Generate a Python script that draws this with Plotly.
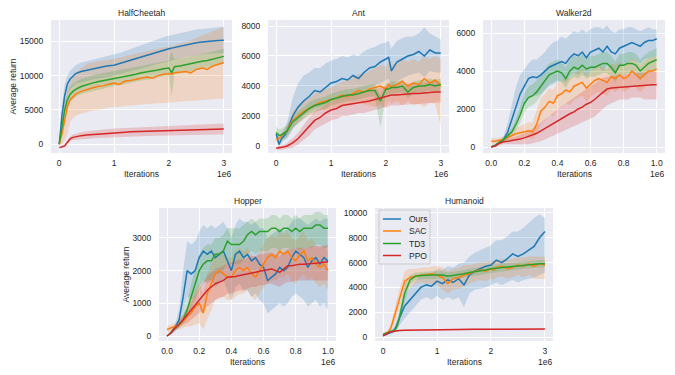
import plotly.graph_objects as go

# ---------------- data (iterations in units of 1e6) ----------------
methods = ["Ours", "SAC", "TD3", "PPO"]
colors = ["#1f77b4", "#ff7f0e", "#2ca02c", "#d62728"]
band_colors = ["rgba(31,119,180,0.2)", "rgba(255,127,14,0.2)", "rgba(44,160,44,0.2)", "rgba(214,39,40,0.2)"]

x_3m = [0, 0.05, 0.1, 0.15, 0.2, 0.25, 0.3, 0.4, 0.5, 0.6, 0.7, 0.8, 0.9, 1.0, 1.1, 1.2, 1.3, 1.4, 1.5, 1.6,
        1.7, 1.8, 1.9, 2.0, 2.05, 2.1, 2.2, 2.3, 2.4, 2.5, 2.6, 2.7, 2.8, 2.9, 3.0]
x_1m = [0, 0.025, 0.05, 0.075, 0.1, 0.125, 0.15, 0.175, 0.2, 0.225, 0.25, 0.275, 0.3, 0.325, 0.35, 0.375,
        0.4, 0.425, 0.45, 0.475, 0.5, 0.525, 0.55, 0.575, 0.6, 0.625, 0.65, 0.675, 0.7, 0.725, 0.75, 0.775,
        0.8, 0.825, 0.85, 0.875, 0.9, 0.925, 0.95, 0.975, 1.0]

# HalfCheetah
hc_mean = [
    [0, 4200, 7100, 8800, 9500, 9900, 10300, 10600, 10800, 11000, 11200, 11300, 11450, 11500, 11750, 12000, 12200, 12400, 12700, 12900,
     13200, 13400, 13700, 13900, 14000, 14100, 14300, 14500, 14650, 14800, 14900, 15000, 15050, 15100, 15150],
    [0, 1500, 3500, 5500, 6500, 6900, 7300, 7700, 8000, 8200, 8400, 8500, 8750, 8900, 8700, 9200, 9300, 9500, 9700, 9800,
     9600, 10000, 10200, 10300, 10200, 10400, 10500, 10600, 10400, 10900, 11100, 10900, 11400, 11700, 11900],
    [0, 2500, 5000, 6500, 7300, 7700, 8000, 8400, 8700, 8900, 9100, 9250, 9400, 9600, 9700, 9900, 10000, 10200, 10400, 10500,
     10600, 10800, 11000, 11100, 10400, 11300, 11400, 11600, 11700, 11900, 12100, 12200, 12400, 12600, 12800],
    [-500, -400, -250, 300, 800, 1000, 1100, 1250, 1350, 1420, 1500, 1550, 1600, 1700, 1720, 1750, 1800, 1820, 1850, 1880,
     1920, 1950, 1980, 2000, 2010, 2020, 2050, 2080, 2100, 2130, 2150, 2170, 2180, 2190, 2200],
]
hc_lo = [
    [-200, 2500, 5500, 7300, 8000, 8400, 8800, 9000, 9200, 9400, 9600, 9700, 9800, 9900, 10100, 10300, 10500, 10800, 11000, 11200,
     11500, 11700, 12000, 12200, 12300, 12300, 12500, 12700, 12800, 13000, 13100, 13200, 13200, 13300, 13300],
    [-200, 0, 500, 1500, 3300, 3800, 4200, 4500, 4700, 4900, 5000, 5100, 5300, 5400, 5500, 5600, 5650, 5700, 5800, 5850,
     5900, 6000, 6050, 6100, 6100, 6150, 6200, 6250, 6300, 6350, 6400, 6450, 6500, 6600, 6650],
    [-200, 1400, 3900, 5400, 6200, 6600, 6900, 7300, 7600, 7800, 8000, 8150, 8300, 8500, 8600, 8800, 8900, 9100, 9300, 9400,
     9500, 9700, 9900, 10000, 7000, 10200, 10300, 10500, 10600, 10800, 11000, 11100, 11300, 11500, 11700],
    [-600, -550, -450, 0, 450, 600, 650, 750, 800, 850, 900, 950, 1000, 1050, 1070, 1090, 1110, 1130, 1150, 1180,
     1210, 1240, 1260, 1280, 1290, 1300, 1320, 1340, 1350, 1370, 1390, 1400, 1410, 1420, 1430],
]
hc_hi = [
    [200, 5500, 8700, 10000, 10700, 11100, 11500, 11900, 12100, 12300, 12500, 12700, 12900, 13000, 13300, 13600, 13900, 14200, 14500, 14800,
     15100, 15300, 15600, 15800, 15900, 16000, 16200, 16400, 16600, 16700, 16800, 16900, 17000, 17100, 17100],
    [200, 3000, 6000, 8000, 9000, 9800, 10400, 11000, 11700, 11900, 12100, 12200, 12300, 12400, 12600, 12800, 13000, 13200, 13400, 13600,
     13800, 14000, 14100, 14200, 14300, 14400, 14600, 14900, 15200, 15500, 15800, 16100, 16500, 16800, 17100],
    [200, 3600, 6100, 7600, 8400, 8800, 9100, 9500, 9800, 10000, 10200, 10350, 10500, 10700, 10800, 11000, 11100, 11300, 11500, 11600,
     11700, 11900, 12100, 12200, 13500, 12400, 12500, 12700, 12800, 13000, 13200, 13300, 13500, 13700, 13900],
    [-400, -250, -50, 600, 1150, 1400, 1550, 1750, 1900, 2000, 2100, 2150, 2200, 2300, 2330, 2370, 2420, 2450, 2500, 2540,
     2580, 2620, 2660, 2700, 2720, 2740, 2780, 2820, 2850, 2880, 2910, 2940, 2960, 2980, 3000],
]

# Ant
ant_mean = [
    [800, 100, 500, 700, 1000, 1500, 2000, 2600, 3000, 3300, 3700, 3600, 3900, 4200, 4300, 4500, 4400, 4700, 4500, 4900,
     5200, 5300, 5600, 5800, 5900, 5000, 5600, 5800, 6000, 6100, 6300, 6000, 6400, 6200, 6200],
    [400, 500, 700, 850, 1000, 1400, 1700, 2000, 2300, 2500, 2700, 2900, 3000, 3100, 3200, 3400, 3300, 3500, 3700, 3600,
     3800, 3900, 4000, 3800, 4100, 3900, 4100, 4300, 4000, 4200, 4100, 4500, 4200, 4400, 4000],
    [900, 700, 750, 850, 1000, 1300, 1600, 1900, 2200, 2500, 2700, 2800, 2900, 3100, 3200, 3300, 3400, 3400, 3500, 3600,
     3700, 3700, 3000, 3800, 3800, 3900, 3900, 4000, 3600, 3900, 4000, 4000, 4100, 4000, 4100],
    [-150, -130, -100, -50, 0, 100, 200, 500, 900, 1300, 1700, 1900, 2200, 2400, 2500, 2700, 2750, 2800, 2850, 2900,
     3000, 3100, 3200, 3300, 3350, 3400, 3400, 3450, 3450, 3500, 3500, 3550, 3550, 3600, 3600],
]
ant_lo = [
    [600, -100, 200, 400, 500, 800, 1100, 1600, 2000, 2300, 2500, 2600, 2800, 3000, 3100, 3300, 3200, 3500, 3400, 3700,
     3900, 4000, 4200, 4400, 4500, 3800, 4300, 4500, 4700, 4800, 4900, 4600, 5000, 4900, 4900],
    [200, 300, 500, 600, 700, 900, 1200, 1500, 1800, 2000, 2200, 2400, 2400, 2500, 2600, 2700, 2700, 2800, 2900, 2800,
     2700, 2600, 2800, 2500, 3000, 2800, 3000, 2700, 3000, 2700, 2800, 2600, 2900, 2800, 1300],
    [500, 300, 350, 450, 600, 900, 1200, 1500, 1800, 2100, 2300, 2400, 2500, 2700, 2800, 2900, 3000, 3000, 3100, 3200,
     3300, 3300, 1200, 3400, 3400, 3500, 3500, 3600, 3200, 3500, 3600, 3600, 3700, 3600, 3700],
    [-250, -250, -250, -200, -200, -150, -100, 100, 400, 700, 1100, 1300, 1500, 1700, 1800, 2000, 2000, 2100, 2200, 2200,
     2300, 2400, 2500, 2600, 2650, 2700, 2700, 2750, 2750, 2800, 2800, 2850, 2850, 2900, 2900],
]
ant_hi = [
    [1000, 300, 800, 1100, 1600, 2500, 3200, 4200, 4700, 4900, 5200, 5200, 5500, 5700, 5800, 6000, 5900, 6100, 6000, 6300,
     6500, 6600, 6800, 6900, 7000, 6500, 7000, 7200, 7300, 7300, 7500, 7900, 7500, 7300, 7100],
    [600, 700, 900, 1100, 1400, 1900, 2300, 2700, 3000, 3200, 3500, 3700, 3800, 3900, 4100, 4300, 4400, 4600, 4800, 4800,
     5000, 5200, 5400, 5300, 5600, 5400, 5600, 5800, 5600, 5800, 5600, 6000, 5800, 6000, 5800],
    [1300, 1100, 1150, 1250, 1400, 1700, 2000, 2300, 2600, 2900, 3100, 3200, 3300, 3500, 3600, 3700, 3800, 3800, 3900, 4000,
     4100, 4100, 3400, 4200, 4200, 4300, 4300, 4400, 4000, 4300, 4400, 4400, 4500, 4400, 4500],
    [-50, -10, 50, 100, 200, 400, 500, 900, 1400, 1900, 2300, 2500, 2800, 3000, 3100, 3300, 3400, 3500, 3500, 3600,
     3700, 3800, 3900, 4000, 4050, 4100, 4100, 4150, 4150, 4200, 4200, 4250, 4250, 4300, 4300],
]

# Walker2d
wk_mean = [
    [0, 100, 250, 400, 800, 1500, 2200, 2800, 3200, 3600, 3700, 3650, 3800, 4000, 4200, 4300, 4400, 4500, 4400, 4700,
     4900, 4800, 5000, 4700, 5000, 5100, 5200, 5000, 5300, 5000, 4900, 5200, 5300, 5400, 5500, 5400, 5300, 5500, 5600, 5600, 5700],
    [300, 300, 350, 400, 500, 600, 700, 750, 800, 850, 800, 1200, 1900, 2100, 2400, 2300, 2700, 2800, 3000, 2900,
     3200, 3300, 3400, 3100, 3300, 3500, 3600, 3500, 3400, 3700, 3600, 3800, 3600, 3700, 4000, 3800, 3600, 3800, 4000, 4000, 4100],
    [0, 100, 250, 400, 600, 800, 1200, 1700, 2300, 2600, 2700, 2900, 3200, 3500, 3800, 3900, 4000, 3900, 3600, 4000,
     4200, 4100, 4300, 4100, 4200, 4200, 4300, 4400, 4400, 4200, 3900, 4300, 4300, 4400, 4400, 4300, 4000, 4200, 4400, 4500, 4600],
    [0, 50, 200, 280, 300, 330, 370, 420, 480, 550, 620, 720, 850, 980, 1100, 1250, 1400, 1500, 1650, 1750,
     1850, 2000, 2100, 2250, 2350, 2500, 2700, 2900, 3050, 3100, 3120, 3140, 3150, 3170, 3200, 3220, 3250, 3260, 3270, 3280, 3280],
]
wk_lo = [
    [0, 50, 150, 250, 400, 800, 1300, 1800, 2200, 2600, 2700, 2700, 2800, 3000, 3200, 3300, 3400, 3500, 3400, 3700,
     3900, 3800, 4000, 3700, 4000, 4100, 4200, 4000, 4300, 4000, 3900, 4200, 4300, 4400, 4600, 4500, 4400, 4600, 4700, 4700, 4800],
    [100, 150, 200, 250, 300, 350, 400, 450, 500, 500, 450, 700, 1200, 1400, 1700, 1600, 2000, 2100, 2300, 2200,
     2500, 2600, 2700, 2400, 2600, 2800, 2900, 2800, 2700, 3000, 2900, 3100, 2900, 3000, 3300, 3100, 2900, 3100, 3300, 3300, 3400],
    [0, 50, 150, 300, 450, 600, 900, 1300, 1800, 2100, 2200, 2400, 2700, 3000, 3300, 3400, 3500, 3400, 3100, 3500,
     3700, 3600, 3800, 3600, 3700, 3700, 3800, 3900, 3900, 3700, 3400, 3800, 3800, 3900, 3900, 3800, 3500, 3700, 3900, 4000, 4100],
    [0, 0, 100, 150, 150, 150, 150, 150, 150, 150, 200, 250, 300, 400, 500, 600, 700, 800, 900, 1000,
     1100, 1200, 1300, 1400, 1500, 1600, 1800, 2000, 2200, 2300, 2400, 2500, 2500, 2500, 2600, 2600, 2600, 2500, 2500, 2500, 2500],
]
wk_hi = [
    [0, 150, 350, 600, 1300, 2300, 3200, 3800, 4100, 4400, 4600, 4600, 4800, 5000, 5300, 5500, 5600, 5800, 5700, 5900,
     6100, 6000, 6200, 6000, 6200, 6300, 6300, 6200, 6400, 6100, 6000, 6200, 6200, 6300, 6300, 6200, 6100, 6200, 6300, 6200, 6200],
    [500, 450, 500, 550, 700, 850, 1000, 1100, 1200, 1300, 1300, 1900, 2600, 2800, 3100, 3000, 3400, 3500, 3700, 3600,
     3900, 4000, 4100, 3800, 4000, 4200, 4300, 4200, 4100, 4400, 4300, 4500, 4300, 4400, 4700, 4500, 4300, 4500, 4700, 4700, 4800],
    [0, 150, 350, 500, 750, 1000, 1500, 2100, 2800, 3200, 3300, 3500, 3800, 4100, 4400, 4500, 4600, 4500, 4200, 4600,
     4800, 4700, 4900, 4700, 4800, 4800, 4900, 5000, 5000, 4800, 4500, 4900, 4900, 5000, 5000, 4900, 4600, 4800, 5000, 5100, 5200],
    [0, 100, 300, 400, 450, 500, 550, 650, 750, 850, 950, 1100, 1300, 1500, 1650, 1800, 2000, 2150, 2300, 2450,
     2600, 2750, 2900, 3050, 3200, 3350, 3500, 3650, 3700, 3750, 3750, 3800, 3800, 3850, 3850, 3900, 3900, 3900, 3950, 3950, 3950],
]

# Hopper
hp_mean = [
    [0, 100, 250, 500, 1200, 2000, 1900, 2000, 2400, 2600, 2500, 2600, 2400, 2500, 2600, 2300, 2000, 2500, 2600, 2400,
     2500, 2300, 2400, 2200, 2100, 1700, 1800, 1900, 2100, 2000, 2100, 2400, 2600, 2500, 2400, 2100, 2300, 2400, 2200, 2400, 2300],
    [200, 250, 300, 350, 450, 600, 700, 900, 1000, 700, 1300, 1600, 1900, 2000, 1900, 1800, 1800, 2000, 2100, 2000,
     2100, 1900, 1800, 2000, 2200, 2400, 2500, 2400, 2600, 2500, 2600, 2400, 2300, 2500, 2600, 2300, 2400, 2200, 2100, 2200, 2000],
    [0, 100, 250, 350, 500, 800, 1200, 1600, 2000, 2200, 2300, 2300, 2500, 2500, 2600, 2900, 2800, 2800, 2800, 2900,
     3100, 3200, 3100, 3200, 3200, 3200, 3300, 3300, 3200, 3300, 3300, 3200, 3300, 3200, 3300, 3300, 3300, 3400, 3400, 3300, 3300],
    [0, 100, 250, 350, 500, 650, 800, 950, 1100, 1250, 1400, 1500, 1600, 1650, 1700, 1800, 1800, 1820, 1850, 1870,
     1900, 1930, 1950, 1980, 2000, 2020, 2050, 2000, 1950, 2050, 2150, 2150, 2180, 2200, 2200, 2200, 2220, 2230, 2240, 2260, 2270],
]
hp_lo = [
    [0, 50, 150, 300, 700, 1200, 1100, 1200, 1500, 1700, 1600, 1700, 1500, 1600, 1700, 1400, 1100, 1500, 1600, 1400,
     1400, 1200, 1300, 1100, 1000, 700, 800, 900, 1000, 900, 1000, 1200, 1300, 1200, 1100, 900, 1000, 1100, 900, 1000, 800],
    [100, 150, 200, 200, 250, 300, 300, 350, 400, 200, 500, 800, 1100, 1200, 1200, 1100, 1100, 1200, 1300, 1300,
     1400, 1200, 1100, 1300, 1500, 1600, 1700, 1700, 1800, 1800, 1900, 1700, 1600, 1800, 1900, 1700, 1800, 1600, 1500, 1600, 1400],
    [0, 50, 150, 250, 350, 550, 800, 1100, 1400, 1600, 1700, 1700, 1900, 1900, 2000, 2300, 2200, 2200, 2200, 2300,
     2500, 2600, 2500, 2600, 2600, 2600, 2700, 2700, 2600, 2700, 2700, 2600, 2700, 2600, 2700, 2700, 2700, 2800, 2800, 2700, 2700],
    [0, 50, 150, 250, 350, 400, 500, 600, 700, 800, 900, 1000, 1100, 1150, 1200, 1300, 1300, 1350, 1400, 1400,
     1450, 1500, 1500, 1550, 1550, 1600, 1600, 1550, 1500, 1600, 1650, 1650, 1700, 1700, 1700, 1700, 1700, 1700, 1700, 1700, 1700],
]
hp_hi = [
    [0, 150, 350, 800, 2000, 2900, 2800, 2900, 3200, 3400, 3300, 3400, 3300, 3400, 3500, 3300, 3000, 3400, 3600, 3500,
     3500, 3400, 3500, 3300, 3300, 3000, 3100, 3200, 3300, 3200, 3300, 3500, 3600, 3600, 3500, 3400, 3500, 3600, 3500, 3600, 3600],
    [300, 350, 400, 500, 650, 900, 1100, 1400, 1600, 1300, 1900, 2200, 2500, 2600, 2500, 2400, 2400, 2600, 2700, 2600,
     2700, 2500, 2400, 2600, 2800, 3000, 3100, 3000, 3200, 3100, 3200, 3000, 2900, 3100, 3200, 2900, 3000, 2800, 2700, 2800, 2600],
    [0, 150, 350, 450, 700, 1100, 1600, 2100, 2500, 2700, 2800, 2800, 3000, 3000, 3100, 3300, 3300, 3300, 3300, 3400,
     3500, 3600, 3500, 3600, 3600, 3600, 3700, 3700, 3600, 3700, 3700, 3600, 3700, 3600, 3700, 3700, 3700, 3800, 3800, 3700, 3700],
    [0, 150, 350, 450, 650, 850, 1050, 1250, 1450, 1650, 1850, 1950, 2050, 2100, 2150, 2250, 2250, 2300, 2350, 2350,
     2400, 2450, 2450, 2500, 2500, 2550, 2550, 2500, 2450, 2550, 2650, 2650, 2700, 2700, 2700, 2700, 2750, 2750, 2750, 2750, 2800],
]

# Humanoid
hu_mean = [
    [100, 200, 300, 400, 500, 900, 1500, 2500, 3000, 3500, 4000, 4200, 4100, 4500, 4300, 4600, 4400, 4700, 4200, 5000,
     5300, 5500, 5700, 5800, 6000, 6200, 6000, 6300, 6700, 6500, 6700, 7000, 7300, 8000, 8500],
    [200, 300, 400, 800, 1500, 2300, 3000, 4500, 4800, 4900, 5000, 5000, 5100, 5000, 4800, 4300, 4700, 4800, 5000, 5100,
     5300, 5400, 5300, 5500, 5400, 5600, 5700, 5500, 5600, 5800, 5700, 5900, 5700, 5900, 5800],
    [200, 300, 400, 450, 500, 800, 1500, 3500, 4600, 4900, 4950, 5000, 5000, 5000, 5000, 4900, 4950, 5000, 5100, 5200,
     5250, 5300, 5400, 5500, 5500, 5550, 5600, 5650, 5700, 5750, 5800, 5850, 5900, 5900, 5900],
    [100, 250, 350, 420, 470, 500, 520, 550, 560, 570, 580, 590, 600, 600, 605, 610, 610, 615, 615, 620,
     620, 625, 625, 630, 630, 630, 630, 635, 635, 635, 640, 640, 640, 640, 640],
]
hu_lo = [
    [50, 100, 150, 200, 300, 500, 900, 1500, 2000, 2500, 3000, 3200, 3000, 3300, 3000, 3200, 3000, 3200, 2400, 3500,
     3800, 3900, 4000, 4200, 4300, 4400, 4200, 4400, 4600, 4400, 4600, 4700, 4800, 5000, 5200],
    [100, 200, 250, 500, 1000, 1600, 2300, 3600, 4000, 4300, 4400, 4300, 4300, 4200, 3800, 3500, 3800, 3900, 4100, 4300,
     4500, 4600, 4500, 4700, 4600, 4800, 4900, 4700, 4800, 5000, 4800, 5000, 4700, 4700, 4700],
    [100, 200, 300, 350, 350, 500, 1000, 2800, 4200, 4600, 4650, 4700, 4700, 4700, 4700, 4600, 4650, 4700, 4800, 4900,
     4950, 5000, 5100, 5200, 5200, 5250, 5300, 5350, 5400, 5450, 5500, 5550, 5600, 5600, 5600],
    [50, 200, 300, 370, 420, 450, 470, 500, 510, 520, 530, 540, 550, 550, 555, 560, 560, 565, 565, 570,
     570, 575, 575, 580, 580, 580, 580, 585, 585, 585, 590, 590, 590, 590, 590],
]
hu_hi = [
    [150, 300, 450, 600, 800, 1300, 2100, 3400, 4000, 4500, 5000, 5200, 5100, 5500, 5400, 5700, 5600, 5900, 6000, 6500,
     6800, 7000, 7200, 7400, 7600, 7800, 7800, 8100, 8500, 8500, 8800, 9200, 9600, 9900, 9600],
    [300, 400, 600, 1100, 2000, 3000, 3800, 5300, 5500, 5500, 5600, 5600, 5700, 5700, 5600, 5300, 5500, 5600, 5800, 5800,
     5900, 6000, 6000, 6100, 6100, 6200, 6300, 6200, 6300, 6400, 6400, 6500, 6500, 6500, 6500],
    [300, 400, 500, 550, 650, 1100, 2000, 4200, 5000, 5200, 5250, 5300, 5300, 5300, 5300, 5200, 5250, 5300, 5400, 5500,
     5550, 5600, 5700, 5800, 5800, 5850, 5900, 5950, 6000, 6050, 6100, 6150, 6200, 6200, 6200],
    [150, 300, 400, 470, 520, 550, 570, 600, 610, 620, 630, 640, 650, 650, 655, 660, 660, 665, 665, 670,
     670, 675, 675, 680, 680, 680, 680, 685, 685, 685, 690, 690, 690, 690, 690],
]

# ---------------- panels: (title, x, mean, lo, hi, y ticks, y range, pixel box l,t,r,b in the 675x375 window) ----------------
panels = [
    ("HalfCheetah", x_3m, hc_mean, hc_lo, hc_hi, [0, 5000, 10000, 15000], [-1280, 18100], (51, 20, 232, 153)),
    ("Ant", x_3m, ant_mean, ant_lo, ant_hi, [0, 2000, 4000, 6000, 8000], [-470, 8400], (268, 20, 449, 153)),
    ("Walker2d", x_1m, wk_mean, wk_lo, wk_hi, [0, 2000, 4000, 6000], [-316, 6684], (483, 20, 665, 153)),
    ("Hopper", x_1m, hp_mean, hp_lo, hp_hi, [0, 1000, 2000, 3000], [-153, 3918], (159, 208, 336, 341)),
    ("Humanoid", x_3m, hu_mean, hu_lo, hu_hi, [0, 2000, 4000, 6000, 8000, 10000], [-322, 10400], (375, 208, 553, 341)),
]
ylabel_x = {1: 12, 4: 125}

# the page body has an 8px margin, so the figure is made 8px smaller and shifted
OFF = 8
W, H = 675 - OFF, 375 - OFF
FONT = "Liberation Sans, Arial, sans-serif"
TXT = "#262626"
FS = 8.5


def px(x):
    return (x - OFF) / W


def py(y):
    return 1 - (y - OFF) / H


fig = go.Figure()
annotations = []
shapes = []
for i, (title, xs, means, los, his, yticks, yrange, box) in enumerate(panels):
    n = i + 1
    xa = "x" if n == 1 else "x%d" % n
    ya = "y" if n == 1 else "y%d" % n
    for k in range(4):
        assert len(means[k]) == len(xs) == len(los[k]) == len(his[k]), (title, k)
        fig.add_trace(go.Scatter(x=xs + xs[::-1], y=his[k] + los[k][::-1], fill="toself",
                                 fillcolor=band_colors[k], line=dict(width=0), mode="lines",
                                 showlegend=False, hoverinfo="skip", xaxis=xa, yaxis=ya))
    for k in range(4):
        fig.add_trace(go.Scatter(x=xs, y=means[k], mode="lines", name=methods[k],
                                 line=dict(color=colors[k], width=1.5), showlegend=False,
                                 xaxis=xa, yaxis=ya))
    l, t, r, b = box
    is3m = xs[-1] > 2
    xkey = "xaxis" if n == 1 else "xaxis%d" % n
    ykey = "yaxis" if n == 1 else "yaxis%d" % n
    fig.layout[xkey] = dict(domain=[px(l), px(r)], anchor=ya, automargin=False,
                            range=[-0.15, 3.15] if is3m else [-0.05, 1.05],
                            tickvals=[0, 1, 2, 3] if is3m else [0, 0.2, 0.4, 0.6, 0.8, 1.0],
                            ticktext=["0", "1", "2", "3"] if is3m else ["0.0", "0.2", "0.4", "0.6", "0.8", "1.0"],
                            showgrid=True, gridcolor="white", gridwidth=1, zeroline=False,
                            showline=False, ticks="outside", ticklen=2, tickcolor="rgba(0,0,0,0)",
                            tickfont=dict(size=FS, color=TXT))
    fig.layout[ykey] = dict(domain=[py(b), py(t)], anchor=xa, automargin=False, range=yrange,
                            tickvals=yticks, ticktext=[str(v) for v in yticks],
                            showgrid=True, gridcolor="white", gridwidth=1, zeroline=False,
                            showline=False, ticks="outside", ticklen=5, tickcolor="rgba(0,0,0,0)",
                            tickfont=dict(size=FS, color=TXT))
    annotations.append(dict(text=title, x=px((l + r) / 2), y=py(t - 6.5), xref="paper", yref="paper",
                            xanchor="center", yanchor="middle", showarrow=False,
                            font=dict(size=FS, color=TXT)))
    annotations.append(dict(text="Iterations", x=px((l + r) / 2), y=py(b + 21), xref="paper", yref="paper",
                            xanchor="center", yanchor="middle", showarrow=False,
                            font=dict(size=FS, color=TXT)))
    annotations.append(dict(text="1e6", x=px(r + 1), y=py(b + 21), xref="paper", yref="paper",
                            xanchor="right", yanchor="middle", showarrow=False,
                            font=dict(size=FS, color=TXT)))
    if n in ylabel_x:
        annotations.append(dict(text="Average return", x=px(ylabel_x[n]), y=py((t + b) / 2),
                                xref="paper", yref="paper", xanchor="center", yanchor="middle",
                                textangle=-90, showarrow=False, font=dict(size=FS, color=TXT)))

# legend drawn by hand inside the Humanoid panel
shapes.append(dict(type="rect", xref="paper", yref="paper", x0=px(379), x1=px(430), y0=py(264), y1=py(210),
                   fillcolor="rgba(234,234,242,0.85)", line=dict(color="#CCCCCC", width=1), layer="above"))
leg_y = [219, 231, 243.5, 255.5]
for k in range(4):
    shapes.append(dict(type="line", xref="paper", yref="paper", x0=px(383), x1=px(401),
                       y0=py(leg_y[k]), y1=py(leg_y[k]), line=dict(color=colors[k], width=1.5), layer="above"))
    annotations.append(dict(text=methods[k], x=px(407), y=py(leg_y[k]), xref="paper", yref="paper",
                            xanchor="left", yanchor="middle", showarrow=False,
                            font=dict(size=FS, color=TXT)))

fig.update_layout(
    width=W, height=H, margin=dict(l=0, r=0, t=0, b=0),
    paper_bgcolor="white", plot_bgcolor="#EAEAF2",
    font=dict(family=FONT, size=FS, color=TXT),
    annotations=annotations, shapes=shapes, showlegend=False,
)

fig.write_html("out.html")
